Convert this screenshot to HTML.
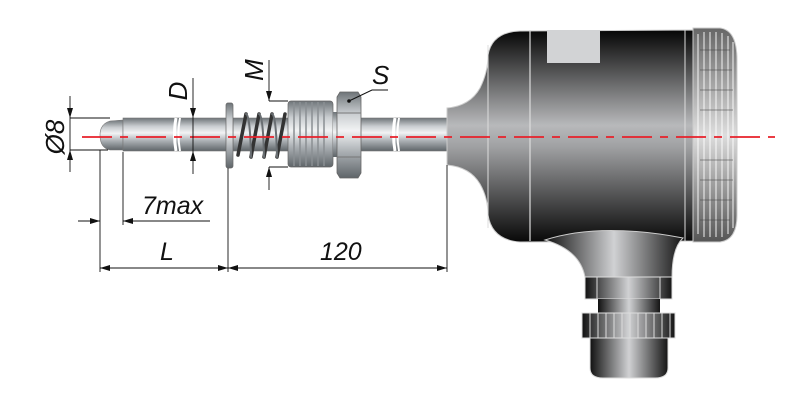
<!DOCTYPE html>
<html><head><meta charset="utf-8"><style>
html,body{margin:0;padding:0;background:#fff;width:800px;height:400px;overflow:hidden}
svg{display:block}
text{font-family:"Liberation Sans",Arial,sans-serif;font-style:italic;fill:#111}
</style></head><body>
<svg width="800" height="400" viewBox="0 0 800 400" xmlns="http://www.w3.org/2000/svg">
<defs>
<linearGradient id="steel" x1="0" y1="0" x2="0" y2="1">
<stop offset="0" stop-color="#6e7478"/><stop offset="0.25" stop-color="#c9cdd0"/><stop offset="0.45" stop-color="#f2f3f4"/><stop offset="0.7" stop-color="#a9aeb2"/><stop offset="1" stop-color="#5f6569"/>
</linearGradient>
<linearGradient id="body" x1="0" y1="0" x2="0" y2="1">
<stop offset="0" stop-color="#050505"/><stop offset="0.45" stop-color="#b8b9bb"/><stop offset="0.55" stop-color="#a0a1a3"/><stop offset="1" stop-color="#080808"/>
</linearGradient>
<linearGradient id="vert" x1="0" y1="0" x2="1" y2="0">
<stop offset="0" stop-color="#111"/><stop offset="0.5" stop-color="#d0d1d3"/><stop offset="1" stop-color="#151515"/>
</linearGradient>
<linearGradient id="cap" x1="0" y1="0" x2="0" y2="1">
<stop offset="0" stop-color="#666"/><stop offset="0.5" stop-color="#ddd"/><stop offset="1" stop-color="#555"/>
</linearGradient>
<marker id="ar" viewBox="0 0 10 6" refX="10" refY="3" markerWidth="10" markerHeight="6" orient="auto-start-reverse" markerUnits="userSpaceOnUse"><path d="M0,0L10,3L0,6z" fill="#111"/></marker>
</defs>

<!-- probe stem -->
<path d="M123,120 L110,121 Q100,124 100,135 Q100,148 110,150 L123,150 Z" fill="url(#steel)" stroke="#777" stroke-width="0.6"/>
<rect x="123" y="118" width="105" height="33" fill="url(#steel)" stroke="#777" stroke-width="0.6"/>
<path d="M176,118 q-3,16 0,33" stroke="#fff" stroke-width="3" fill="none"/>
<path d="M180,118 q-3,16 0,33" stroke="#fff" stroke-width="2" fill="none"/>
<rect x="233" y="118" width="214" height="33" fill="url(#steel)" stroke="#777" stroke-width="0.6"/>
<path d="M395,118 q-3,16 0,33" stroke="#fff" stroke-width="3" fill="none"/>
<path d="M399,118 q-3,16 0,33" stroke="#fff" stroke-width="2" fill="none"/>
<!-- flange -->
<rect x="226" y="103" width="7" height="65" rx="2" fill="url(#steel)" stroke="#666" stroke-width="0.7"/>
<!-- spring -->
<g stroke="#333" stroke-width="3.5" fill="none" stroke-linecap="round">
<path d="M238,155 L246,114 M251,157 L259,114 M264,157 L272,114 M277,157 L285,114"/>
</g>
<g stroke="#6a6f73" stroke-width="2" fill="none" stroke-linecap="round">
<path d="M246,114 q4,0 5,43 M259,114 q4,0 5,43 M272,114 q4,0 5,43"/>
</g>
<!-- thread -->
<rect x="288" y="101" width="45" height="66" rx="3" fill="url(#steel)" stroke="#666" stroke-width="0.7"/>
<g stroke="#8a8f93" stroke-width="1.5">
<line x1="294" y1="102" x2="294" y2="166"/><line x1="300" y1="102" x2="300" y2="166"/><line x1="306" y1="102" x2="306" y2="166"/><line x1="312" y1="102" x2="312" y2="166"/><line x1="318" y1="102" x2="318" y2="166"/><line x1="324" y1="102" x2="324" y2="166"/>
</g>
<rect x="333" y="112" width="6" height="45" fill="url(#steel)"/>
<!-- nut -->
<path d="M340,92 h18 l3,5 v76 l-3,5 h-18 l-3,-5 v-76z" fill="url(#steel)" stroke="#666" stroke-width="0.8"/>
<line x1="337" y1="113" x2="361" y2="113" stroke="#777"/><line x1="337" y1="157" x2="361" y2="157" stroke="#777"/>
<circle cx="349" cy="101" r="1.8" fill="#111"/>
<path d="M349,101 L372,90 H388" stroke="#111" fill="none" stroke-width="1"/>

<!-- head -->
<path d="M447,108 Q470,106 480,88 Q488,72 488,55 Q492,32 520,31 L693,30 L693,241 L520,242 Q492,240 488,215 Q488,198 480,184 Q470,167 447,165 Z" fill="url(#body)" stroke="#ccc" stroke-width="1"/>
<line x1="488" y1="45" x2="488" y2="228" stroke="#ddd" stroke-width="1"/>
<line x1="530" y1="30" x2="530" y2="241" stroke="#ddd" stroke-width="1.2"/>
<line x1="685" y1="30" x2="685" y2="241" stroke="#ddd" stroke-width="1"/>
<rect x="547" y="30" width="53" height="33" fill="#d2d3d5"/>
<!-- ribbed cap -->
<path d="M693,28 L720,28 Q737,30 737,60 L737,215 Q737,240 720,242 L693,242Z" fill="url(#cap)" stroke="#ccc"/>
<g stroke="#fff" stroke-width="1" fill="none" opacity="0.9">
<path d="M698,34 v200 M704,32 v205 M710,32 v205 M716,32 v205 M722,33 v204 M728,36 v198 M733,42 v186"/>
</g>
<g stroke="#444" stroke-width="0.8" opacity="0.7">
<path d="M700,50 h30 M700,70 h32 M700,90 h33 M700,110 h33 M700,160 h33 M700,180 h33 M700,200 h32 M700,220 h30"/>
</g>
<!-- bottom neck -->
<path d="M545,240 Q600,222 683,238 Q672,248 672,277 L585,277 Q580,250 545,240Z" fill="url(#vert)" stroke="#ccc"/>
<rect x="585" y="277" width="87" height="22" fill="url(#vert)" stroke="#ddd"/>
<line x1="597" y1="277" x2="597" y2="299" stroke="#ddd"/><line x1="660" y1="277" x2="660" y2="299" stroke="#ddd"/>
<rect x="598" y="299" width="62" height="14" fill="url(#vert)"/>
<rect x="582" y="313" width="93" height="25" fill="url(#vert)" stroke="#ddd"/>
<g stroke="#ddd" stroke-width="1"><path d="M590,313v25M598,313v25M606,313v25M614,313v25M622,313v25M630,313v25M638,313v25M646,313v25M654,313v25M662,313v25M670,313v25"/></g>
<path d="M590,338 H668 V368 Q668,378 655,378 H603 Q590,378 590,368Z" fill="url(#vert)" stroke="#ddd"/>

<!-- centerline -->
<line x1="82" y1="137" x2="775" y2="137" stroke="#e8202a" stroke-width="1.8" stroke-dasharray="30,8,8,8"/>

<!-- dimensions -->
<g stroke="#111" stroke-width="0.9" fill="none">
<line x1="70" y1="118" x2="110" y2="118"/><line x1="70" y1="150" x2="108" y2="150"/>
<line x1="70" y1="96" x2="70" y2="118" marker-end="url(#ar)"/>
<line x1="70" y1="172" x2="70" y2="150" marker-end="url(#ar)"/>
<line x1="70" y1="118" x2="70" y2="150"/>
<line x1="193" y1="78" x2="193" y2="118" marker-end="url(#ar)"/>
<line x1="193" y1="174" x2="193" y2="151" marker-end="url(#ar)"/>
<line x1="193" y1="118" x2="193" y2="151"/>
<line x1="269" y1="60" x2="269" y2="101" marker-end="url(#ar)"/>
<line x1="269" y1="190" x2="269" y2="167" marker-end="url(#ar)"/>
<line x1="269" y1="101" x2="288" y2="101"/><line x1="269" y1="167" x2="288" y2="167"/>
<line x1="100" y1="150" x2="100" y2="272"/>
<line x1="123" y1="152" x2="123" y2="225"/>
<line x1="228" y1="168" x2="228" y2="272"/>
<line x1="447" y1="165" x2="447" y2="272"/>
<line x1="78" y1="221" x2="100" y2="221" marker-end="url(#ar)"/>
<line x1="145" y1="221" x2="123" y2="221" marker-end="url(#ar)"/>
<line x1="123" y1="221" x2="210" y2="221"/>
<line x1="100" y1="268" x2="228" y2="268" marker-start="url(#ar)" marker-end="url(#ar)"/>
<line x1="228" y1="268" x2="447" y2="268" marker-start="url(#ar)" marker-end="url(#ar)"/>
</g>
<text x="0" y="0" font-size="26" transform="translate(64,137) rotate(-90)" text-anchor="middle">Ø8</text>
<text x="0" y="0" font-size="26" transform="translate(187,91) rotate(-90)" text-anchor="middle">D</text>
<text x="0" y="0" font-size="26" transform="translate(263,70) rotate(-90)" text-anchor="middle">M</text>
<text x="372" y="84" font-size="26">S</text>
<text x="142" y="214" font-size="25">7max</text>
<text x="160" y="260" font-size="25">L</text>
<text x="320" y="260" font-size="25">120</text>
</svg>
</body></html>
